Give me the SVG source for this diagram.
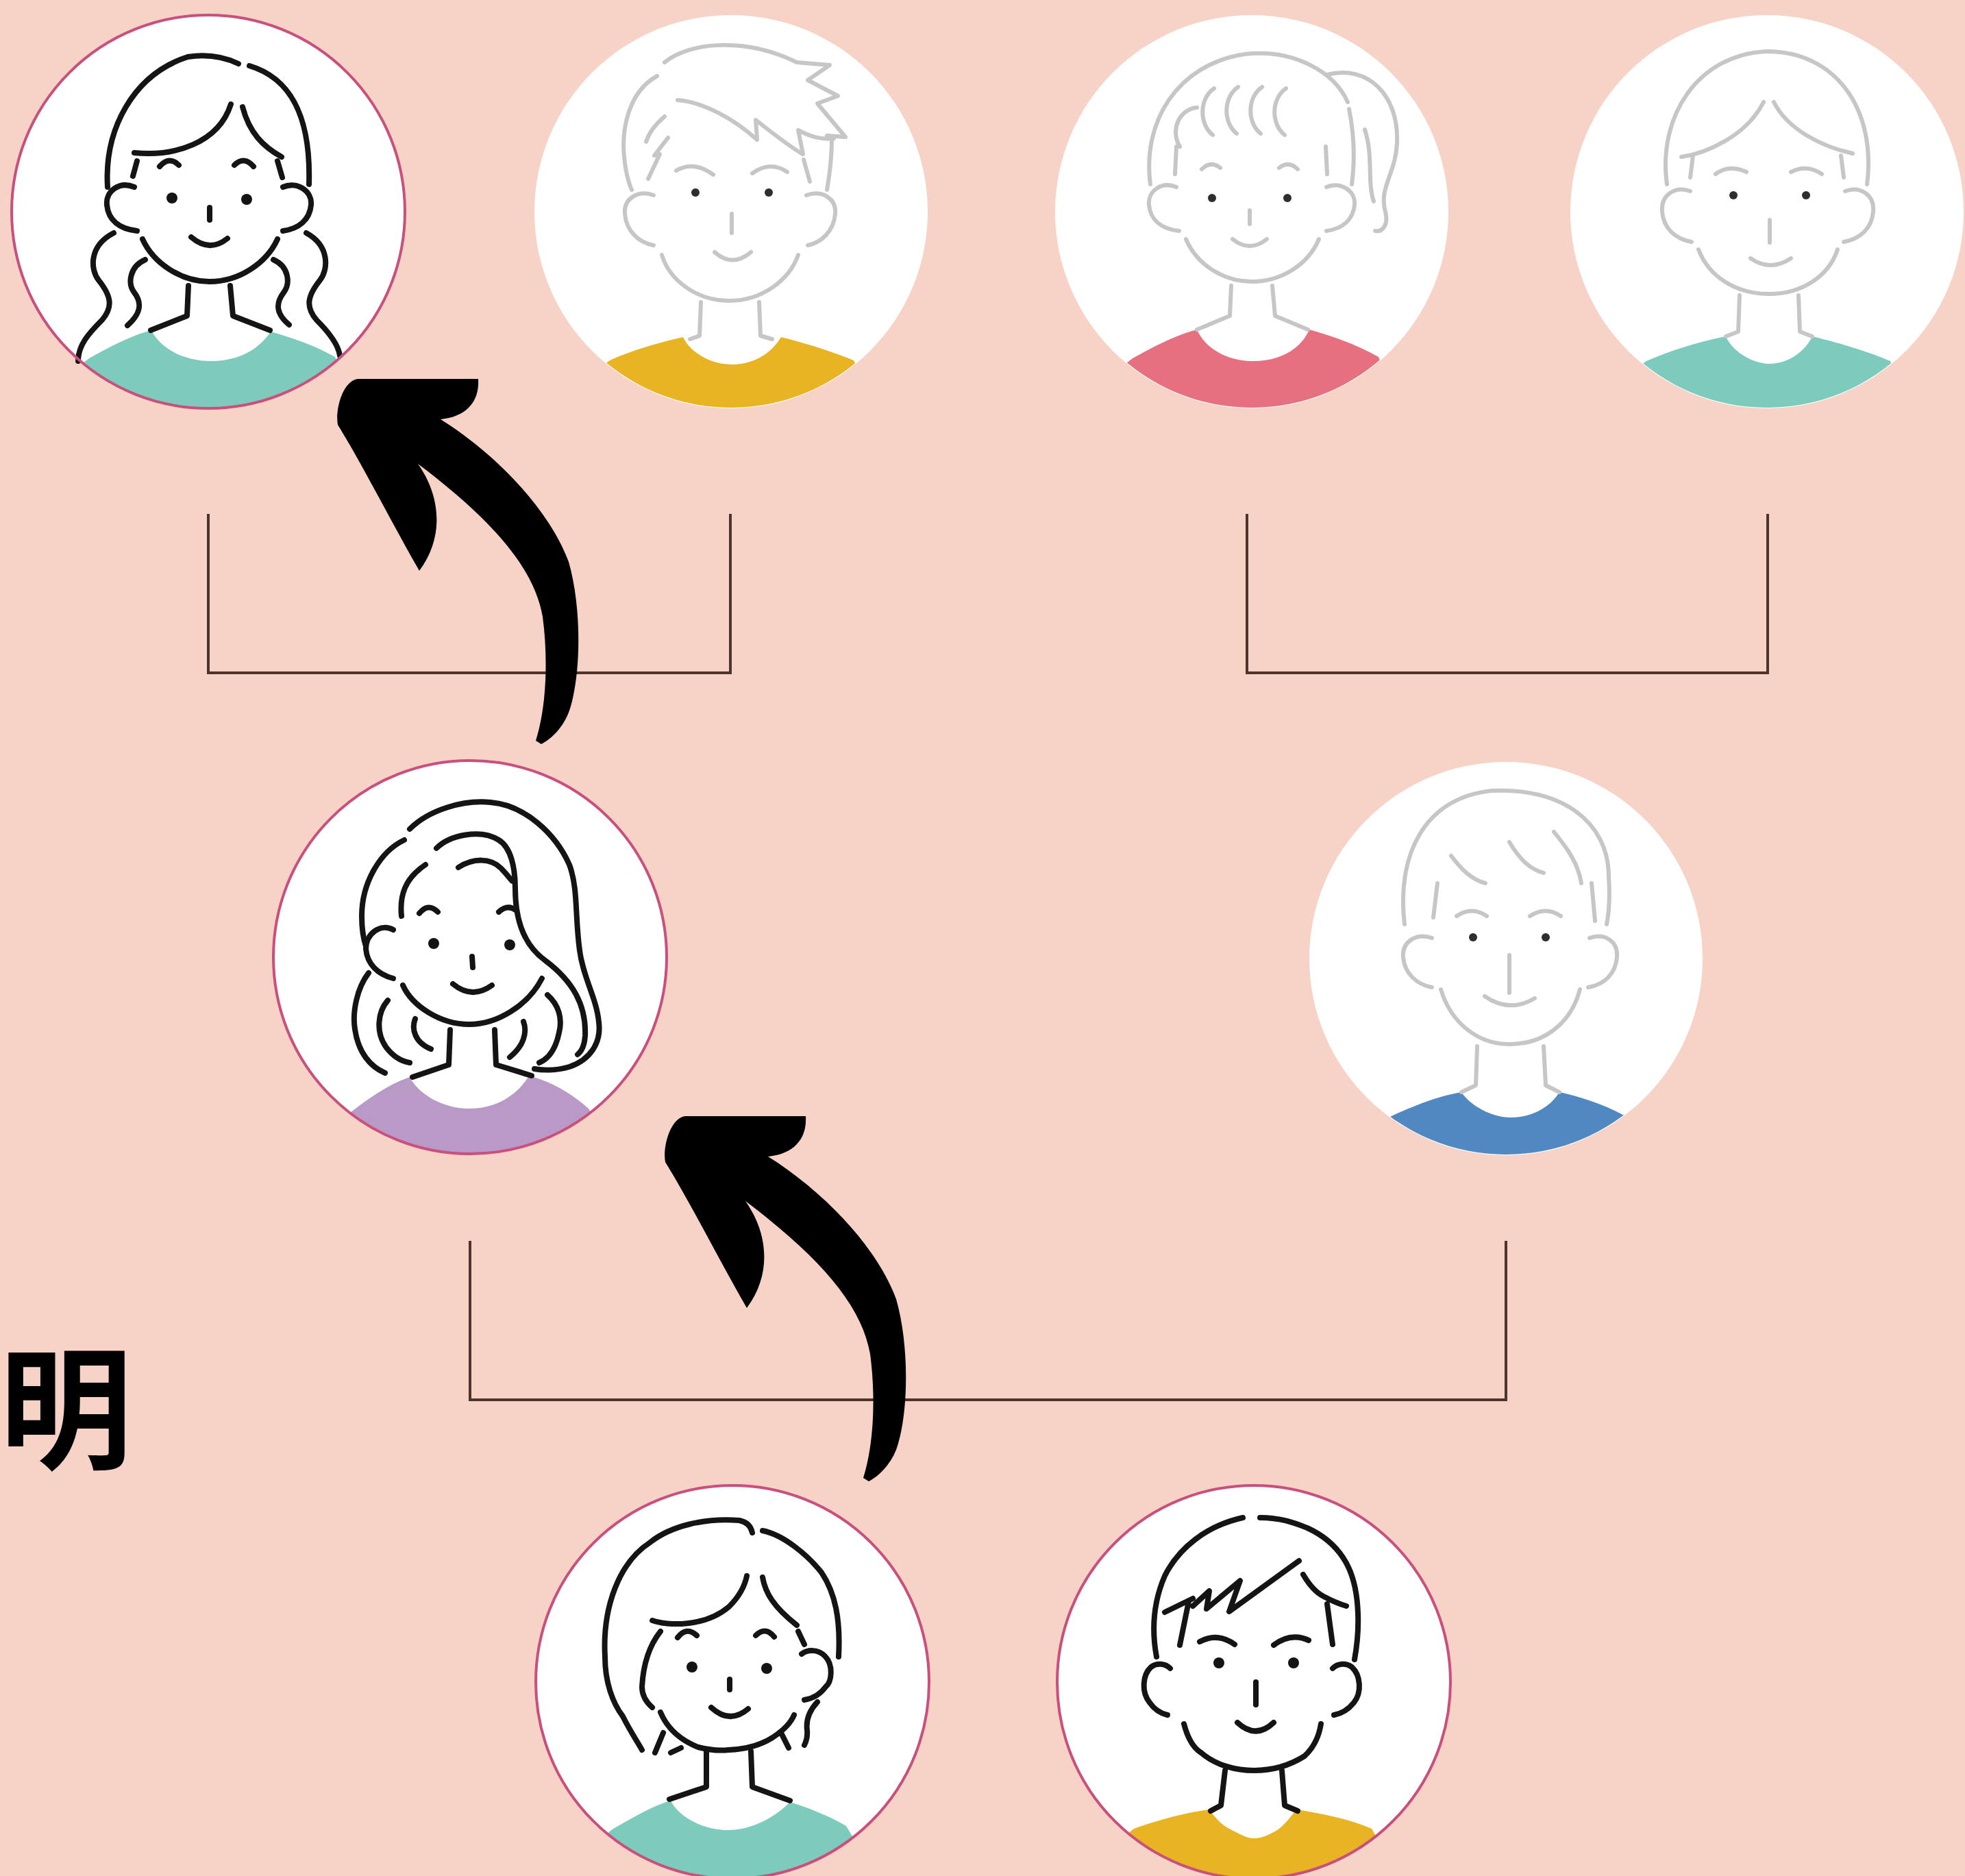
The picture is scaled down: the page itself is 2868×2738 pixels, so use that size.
<svg xmlns="http://www.w3.org/2000/svg" xmlns:xlink="http://www.w3.org/1999/xlink" width="2868" height="2738" viewBox="0 0 2868 2738">
  <style>
    .bg { fill: #f7d3c7; }
    .disc { fill: #ffffff; }
    .ring { fill: none; stroke: #c9507d; stroke-width: 4; }
    .ink { fill: none; stroke: #141414; stroke-width: 8; stroke-linecap: round; stroke-linejoin: round; }
    .soft { fill: none; stroke: #c6c6c6; stroke-width: 6; stroke-linecap: round; stroke-linejoin: round; }
    .eye { fill: #141414; }
    .eye-soft { fill: #2e2e2e; }
    .teal { fill: #7dcbbc; }
    .yellow { fill: #e8b423; }
    .rose { fill: #e6707f; }
    .lilac { fill: #b99ac6; }
    .blue { fill: #5088c2; }
    .bracket { fill: none; stroke: #4f332d; stroke-width: 4; }
    .swoop { fill: #000000; }
    .label { font-family: "Noto Sans CJK JP", "Noto Sans CJK SC", sans-serif; font-weight: 700; font-size: 194px; fill: #000000; }
  </style>
  <defs>
    <clipPath id="disc-clip">
      <circle cx="0" cy="0" r="286"/>
    </clipPath>
    <!-- curved pointer, drawn once and reused -->
    <path id="swoop-shape" d="M493,620 C489,598 500,556 522,553 L698,553 C700,585 682,608 643,612 C720,660 800,740 830,820 C850,890 848,990 830,1040 C820,1065 802,1080 790,1086 L782,1081 C798,1030 800,960 792,900 C780,830 720,760 610,677 C642,722 650,782 612,833 C570,760 530,680 493,620 Z"/>
  </defs>

  <rect class="bg" x="0" y="0" width="2868" height="2738"/>

  <text class="label" x="-1" y="2129">明</text>

  <g id="connectors">
    <path class="bracket" d="M304,750 V982 H1066 V750"/>
    <path class="bracket" d="M1820,750 V982 H2580 V750"/>
    <path class="bracket" d="M686,1811 V2043 H2198 V1811"/>
    <use class="swoop" href="#swoop-shape" xlink:href="#swoop-shape"/>
    <use class="swoop" href="#swoop-shape" xlink:href="#swoop-shape" transform="translate(478,1076)"/>
  </g>

  <!-- top row, left: woman with wavy hair -->
  <g id="node-top-1" transform="translate(304,309)">
    <circle class="disc" r="287"/>
    <path class="teal" clip-path="url(#disc-clip)" d="M-220,250 L-174,214 C-140,195 -110,180 -83,173 C-70,200 -35,218 4,218 C45,218 75,200 91,175 C125,185 155,195 185,212 L220,300 L-220,300 Z"/>
    <path class="ink" d="M-147,-36 C-152,-120 -110,-200 -30,-226 Q10,-232 44,-216 M60,-213 C120,-195 150,-140 147,-40"/>
    <path class="ink" d="M-108,-86 C-50,-80 15,-100 33,-157 M50,-153 C60,-115 80,-95 107,-80"/>
    <path class="ink" d="M-104,-74 L-110,-52 M101,-74 L108,-50"/>
    <path class="ink" d="M-108,-36 C-130,-45 -150,-30 -148,-10 C-146,12 -130,25 -104,28 M109,-36 C130,-45 152,-30 150,-10 C148,12 132,25 109,28"/>
    <path class="ink" d="M-96,40 C-80,75 -40,102 2,102 C45,102 85,75 101,40"/>
    <path class="ink" d="M-71,-66 Q-57,-82 -43,-68 M38,-68 Q52,-82 66,-66"/>
    <path class="ink" d="M2,-6 L2,12 M-25,37 Q2,60 28,39"/>
    <path class="ink" d="M-29,108 L-31,152 L-84,173 M32,108 L36,152 L90,173"/>
    <path class="ink" d="M-138,31 C-175,50 -172,85 -160,100 C-140,125 -140,140 -155,158 C-175,178 -190,195 -190,218 M-92,70 C-115,80 -118,105 -108,118 C-95,135 -100,150 -118,166"/>
    <path class="ink" d="M143,31 C178,50 175,85 163,100 C143,125 143,140 158,158 C178,178 190,195 192,210 M95,70 C118,80 120,105 110,118 C97,135 100,150 118,165"/>
    <circle class="eye" cx="-53" cy="-20" r="8"/>
    <circle class="eye" cx="56" cy="-18" r="8"/>
    <circle class="ring" r="287"/>
  </g>

  <!-- top row, second: man with spiky hair -->
  <g id="node-top-2" transform="translate(1067,309)">
    <circle class="disc" r="287"/>
    <path class="yellow" clip-path="url(#disc-clip)" d="M-220,250 L-177,217 C-140,200 -100,190 -70,183 C-60,205 -30,223 1,223 C35,223 60,205 73,183 C110,192 150,205 179,217 L220,300 L-220,300 Z"/>
    <path class="soft" d="M-108,-198 C-150,-175 -160,-120 -156,-80 Q-153,-50 -145,-32"/>
    <path class="soft" d="M-97,-218 C-60,-248 20,-255 96,-218 L144,-214 L112,-192 L156,-169 L126,-158 L167,-109 L140,-111"/>
    <path class="soft" d="M147,-106 C147,-80 144,-55 140,-32"/>
    <path class="soft" d="M-78,-163 C-40,-160 5,-135 38,-105 L36,-134 C60,-115 85,-95 105,-84 L98,-119 C115,-110 130,-105 150,-107"/>
    <path class="soft" d="M-97,-139 C-110,-128 -120,-115 -124,-102 M-92,-108 L-112,-82 L-104,-84 L-121,-48 M106,-76 L115,-44"/>
    <path class="soft" d="M-113,-24 C-135,-32 -157,-20 -155,3 C-153,28 -135,45 -113,49 M110,-24 C132,-32 154,-20 152,3 C150,28 132,45 112,49"/>
    <path class="soft" d="M-101,63 C-90,100 -50,130 -3,130 C45,130 85,100 98,63"/>
    <path class="soft" d="M-80,-60 Q-55,-75 -26,-54 M31,-56 Q57,-75 82,-58"/>
    <path class="soft" d="M1,3 L1,31 M-24,59 Q2,82 29,59"/>
    <path class="soft" d="M-44,132 L-46,181 L-60,186 M41,132 L43,181 L60,186"/>
    <circle class="eye-soft" cx="-52" cy="-28" r="6"/>
    <circle class="eye-soft" cx="55" cy="-28" r="6"/>
  </g>

  <!-- top row, third: girl with curly fringe and ponytail -->
  <g id="node-top-3" transform="translate(1827,309)">
    <circle class="disc" r="287"/>
    <path class="rose" clip-path="url(#disc-clip)" d="M-220,250 L-174,214 C-140,195 -110,180 -80,172 C-68,200 -35,218 2,218 C42,218 72,200 84,172 C120,182 155,195 185,212 L220,300 L-220,300 Z"/>
    <path class="soft" d="M-148,-40 C-160,-130 -110,-215 -10,-230 C60,-238 120,-205 140,-160"/>
    <path class="soft" d="M142,-150 C150,-110 150,-70 146,-40"/>
    <path class="soft" d="M110,-200 C170,-215 215,-170 212,-100 C210,-55 185,-35 195,0 C200,20 190,30 180,28 M165,-120 C178,-80 168,-45 178,-15"/>
    <path class="soft" d="M-55,-180 C-77,-165 -77,-128 -57,-112 M-20,-182 C-42,-167 -42,-130 -22,-114 M15,-182 C-7,-167 -7,-130 13,-114 M50,-180 C28,-165 28,-128 48,-112 M-105,-95 C-120,-120 -105,-150 -80,-152"/>
    <path class="soft" d="M-110,-95 L-112,-55 M108,-95 L110,-55"/>
    <path class="soft" d="M-110,-36 C-132,-45 -152,-30 -150,-10 C-148,12 -132,25 -106,28 M109,-36 C130,-45 152,-30 150,-10 C148,12 132,25 109,28"/>
    <path class="soft" d="M-96,40 C-80,78 -40,102 0,102 C42,102 82,78 98,40"/>
    <path class="soft" d="M-73,-62 Q-60,-75 -46,-64 M40,-64 Q54,-75 67,-62"/>
    <path class="soft" d="M-3,-2 L-3,18 M-28,40 Q-3,60 22,40"/>
    <path class="soft" d="M-30,108 L-32,152 L-80,172 M30,108 L34,152 L82,172"/>
    <circle class="eye-soft" cx="-58" cy="-20" r="6"/>
    <circle class="eye-soft" cx="52" cy="-20" r="6"/>
  </g>

  <!-- top row, right: man with short hair -->
  <g id="node-top-4" transform="translate(2579,309)">
    <circle class="disc" r="287"/>
    <path class="teal" clip-path="url(#disc-clip)" d="M-220,250 L-176,218 C-130,198 -90,188 -60,182 C-50,205 -20,222 3,222 C30,222 55,205 66,182 C100,190 145,203 180,218 L220,300 L-220,300 Z"/>
    <path class="soft" d="M-146,-40 C-160,-140 -100,-230 0,-234 C100,-234 160,-150 146,-40"/>
    <path class="soft" d="M-125,-80 C-90,-85 -30,-110 -5,-160 M10,-160 C30,-120 80,-95 125,-85"/>
    <path class="soft" d="M-108,-82 L-112,-50 M108,-82 L112,-50"/>
    <path class="soft" d="M-112,-30 C-134,-38 -155,-25 -153,0 C-151,25 -133,40 -110,44 M114,-30 C136,-38 157,-25 155,0 C153,25 135,40 112,44"/>
    <path class="soft" d="M-100,55 C-85,95 -45,120 3,120 C50,120 90,95 103,55"/>
    <path class="soft" d="M-75,-55 Q-55,-70 -30,-58 M35,-58 Q58,-70 80,-55"/>
    <path class="soft" d="M4,12 L4,45 M-24,68 Q5,88 35,68"/>
    <path class="soft" d="M-40,122 L-42,175 L-60,182 M46,122 L48,175 L66,182"/>
    <circle class="eye-soft" cx="-49" cy="-24" r="6"/>
    <circle class="eye-soft" cx="57" cy="-24" r="6"/>
  </g>

  <!-- middle row, left: woman with long hair -->
  <g id="node-mid-1" transform="translate(686,1397)">
    <circle class="disc" r="287"/>
    <path class="lilac" clip-path="url(#disc-clip)" d="M-220,260 L-167,221 C-140,200 -110,182 -88,175 C-75,200 -40,221 -1,221 C40,221 70,200 86,173 C120,182 150,200 173,221 L220,300 L-220,300 Z"/>
    <path class="ink" d="M-88,-187 C-60,-215 -10,-230 30,-226 C80,-222 125,-180 145,-135 C158,-100 153,-60 160,-10 C165,30 185,60 188,95 C192,125 175,150 145,160 C125,166 105,165 94,163"/>
    <path class="ink" d="M-49,-159 C-30,-178 15,-188 42,-171 C60,-160 66,-130 66,-100 C66,-60 75,-20 110,5 C150,35 170,70 168,115 C167,130 162,138 157,142"/>
    <path class="ink" d="M-96,-171 C-130,-155 -158,-110 -158,-60 C-158,-40 -155,-25 -152,-16"/>
    <path class="ink" d="M-148,23 C-165,45 -172,80 -168,105 C-163,140 -145,160 -124,169"/>
    <path class="ink" d="M-120,63 C-135,80 -138,110 -122,132 C-112,145 -100,152 -88,154 M-80,90 C-86,105 -80,125 -57,134"/>
    <path class="ink" d="M113,55 C130,70 135,90 130,110 C125,135 115,148 101,154 M78,94 C84,110 78,130 58,146"/>
    <path class="ink" d="M-100,-60 C-103,-90 -95,-115 -65,-135 M-17,-131 C5,-145 30,-145 45,-130 C55,-120 60,-112 62,-111"/>
    <path class="ink" d="M-112,-40 C-130,-50 -152,-35 -152,-12 C-150,10 -135,25 -112,31"/>
    <path class="ink" d="M-98,41 C-85,70 -45,98 -1,98 C40,98 85,70 105,31"/>
    <path class="ink" d="M-74,-64 Q-61,-80 -47,-66 M42,-66 Q55,-78 68,-68"/>
    <path class="ink" d="M3,-1 L4,15 M-25,39 Q3,62 32,41"/>
    <path class="ink" d="M-29,106 L-31,157 L-84,175 M36,106 L38,157 L90,173"/>
    <circle class="eye" cx="-53" cy="-20" r="8"/>
    <circle class="eye" cx="58" cy="-18" r="8"/>
    <circle class="ring" r="287"/>
  </g>

  <!-- middle row, right: young man -->
  <g id="node-mid-2" transform="translate(2198,1399)">
    <circle class="disc" r="287"/>
    <path class="blue" clip-path="url(#disc-clip)" d="M-220,270 L-180,236 C-130,212 -95,200 -65,195 C-52,215 -20,232 7,232 C40,232 66,215 78,195 C110,202 150,215 185,236 L220,300 L-220,300 Z"/>
    <path class="soft" d="M-148,-50 C-160,-150 -120,-235 -20,-245 C80,-250 150,-200 150,-120 C152,-90 150,-65 147,-50"/>
    <path class="soft" d="M-80,-150 C-65,-130 -50,-115 -30,-110 M5,-170 C20,-145 35,-130 55,-125 M70,-185 C90,-160 105,-140 110,-110"/>
    <path class="soft" d="M-100,-110 L-106,-60 M125,-110 L130,-55"/>
    <path class="soft" d="M-108,-30 C-130,-38 -152,-25 -150,-2 C-148,22 -130,38 -108,42 M122,-30 C144,-38 164,-25 162,-2 C160,22 144,38 120,42"/>
    <path class="soft" d="M-95,45 C-80,95 -40,125 5,125 C55,125 95,95 108,45"/>
    <path class="soft" d="M-72,-62 Q-50,-77 -28,-62 M35,-62 Q58,-77 80,-62"/>
    <path class="soft" d="M5,-5 L5,50 M-31,55 Q5,80 42,58"/>
    <path class="soft" d="M-42,128 L-44,185 L-65,195 M55,128 L58,185 L78,195"/>
    <circle class="eye-soft" cx="-48" cy="-31" r="6"/>
    <circle class="eye-soft" cx="58" cy="-31" r="6"/>
  </g>

  <!-- bottom row, left: girl with bob -->
  <g id="node-bottom-1" transform="translate(1069,2455)">
    <circle class="disc" r="287"/>
    <path class="teal" clip-path="url(#disc-clip)" d="M-220,250 L-174,214 C-140,195 -115,180 -90,173 C-80,195 -45,216 -6,216 C30,216 65,195 84,175 C115,185 140,195 166,210 L220,300 L-220,300 Z"/>
    <path class="ink" d="M-186,-37 C-190,-110 -165,-175 -120,-204 C-90,-228 -40,-240 10,-236 C20,-234 27,-228 29,-218"/>
    <path class="ink" d="M44,-221 C75,-215 110,-185 130,-160 C150,-130 158,-92 155,-37"/>
    <path class="ink" d="M-186,-37 C-186,0 -175,30 -160,50 C-150,70 -140,85 -132,99"/>
    <path class="ink" d="M-117,-90 C-95,-82 -40,-80 -5,-110 C10,-125 18,-140 21,-155 M44,-153 C48,-130 60,-110 94,-83"/>
    <path class="ink" d="M-105,-74 C-120,-55 -130,-30 -132,7 C-132,20 -125,30 -117,37"/>
    <path class="ink" d="M96,-74 L105,-55"/>
    <path class="ink" d="M101,-41 C110,-48 125,-48 135,-38 C148,-25 145,0 136,7 C128,18 118,24 105,26"/>
    <path class="ink" d="M124,29 C112,42 107,55 109,70 C110,80 107,88 105,92"/>
    <path class="ink" d="M-105,44 C-95,68 -75,85 -50,95 C-30,100 -15,100 -6,99 C20,98 42,92 60,80 C75,70 85,60 90,48"/>
    <path class="ink" d="M-101,74 L-113,103 M-75,96 L-90,103 M71,74 L82,96"/>
    <path class="ink" d="M-80,-65 Q-67,-82 -52,-68 M34,-68 Q48,-82 61,-66"/>
    <path class="ink" d="M-4,-4 L-4,11 M-31,37 Q-4,62 23,39"/>
    <path class="ink" d="M-38,101 L-38,153 L-92,171 M27,101 L29,153 L84,173"/>
    <circle class="eye" cx="-59" cy="-22" r="8"/>
    <circle class="eye" cx="50" cy="-20" r="8"/>
    <circle class="ring" r="287"/>
  </g>

  <!-- bottom row, right: boy with zigzag fringe -->
  <g id="node-bottom-2" transform="translate(1830,2455)">
    <circle class="disc" r="287"/>
    <path class="yellow" clip-path="url(#disc-clip)" d="M-220,250 L-175,214 C-130,198 -95,190 -65,186 C-55,200 -45,210 -36,214 C-20,222 -10,228 0,228 C12,228 25,222 37,214 C48,205 55,195 62,186 C100,192 140,200 172,214 L220,300 L-220,300 Z"/>
    <path class="ink" d="M-142,-37 C-150,-80 -146,-118 -130,-155 C-110,-195 -70,-228 -16,-240"/>
    <path class="ink" d="M9,-240 C40,-240 60,-232 78,-225 C100,-215 118,-200 130,-182 C145,-160 151,-130 152,-100 C153,-75 151,-55 147,-33"/>
    <path class="ink" d="M-130,-102 L-89,-122 M-95,-118 L-108,-54 M-89,-111 L-65,-133 L-69,-107 L-20,-148 L-36,-103 L66,-177"/>
    <path class="ink" d="M72,-157 C82,-140 92,-130 102,-125 C115,-118 125,-114 135,-111 M107,-114 L115,-55"/>
    <path class="ink" d="M-122,-20 C-130,-28 -142,-28 -150,-22 C-163,-10 -164,15 -152,30 C-145,40 -135,46 -126,48"/>
    <path class="ink" d="M115,-20 C123,-28 135,-28 143,-22 C156,-10 158,15 146,30 C138,40 128,46 117,48"/>
    <path class="ink" d="M-102,61 C-97,80 -90,95 -77,103 C-55,122 -25,129 0,129 C30,129 55,120 74,108 C88,95 95,80 98,61"/>
    <path class="ink" d="M-79,-59 Q-53,-73 -28,-55 M29,-54 Q54,-73 80,-61"/>
    <path class="ink" d="M3,0 L3,33 M-24,59 Q3,84 29,59"/>
    <path class="ink" d="M-42,129 L-48,180 L-63,188 M41,129 L45,180 L64,188"/>
    <circle class="eye" cx="-51" cy="-28" r="8"/>
    <circle class="eye" cx="58" cy="-28" r="8"/>
    <circle class="ring" r="287"/>
  </g>
</svg>
